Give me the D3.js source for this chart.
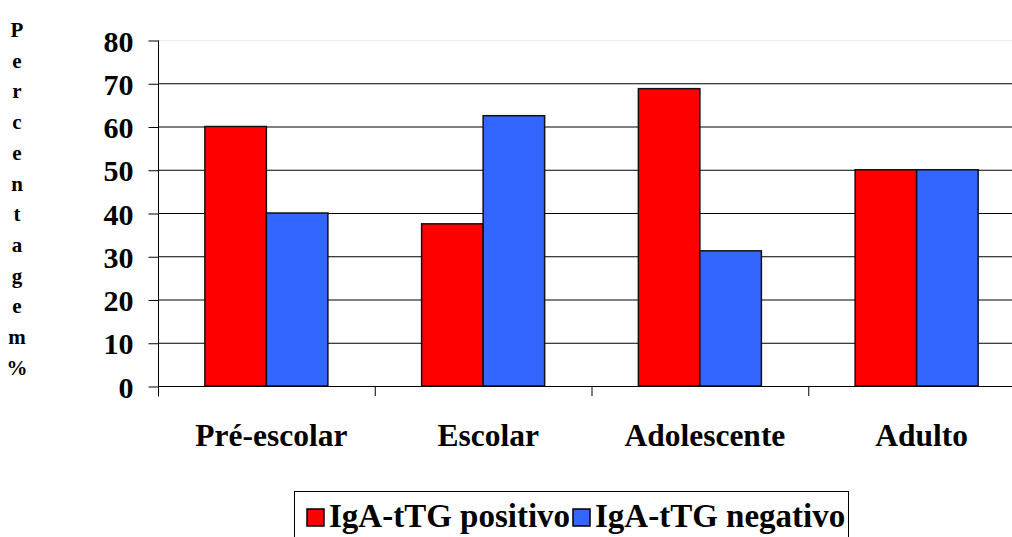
<!DOCTYPE html>
<html>
<head>
<meta charset="utf-8">
<script src="https://cdn.jsdelivr.net/npm/d3@7"></script>
<style>
  html, body { margin: 0; padding: 0; background: #fff; }
  svg { display: block; }
  svg text { font-family: "Liberation Serif", "Times New Roman", Times, serif; font-weight: bold; fill: #000; }
</style>
</head>
<body>
<svg id="chart" width="1012" height="537"></svg>
<script>
// Age groups and the share of IgA-tTG positive / negative results in each
const categories = ["Pré-escolar", "Escolar", "Adolescente", "Adulto"];
const seriesNames = ["IgA-tTG positivo", "IgA-tTG negativo"];
const positivo = [60, 37.5, 68.75, 50];
const negativo = [40, 62.5, 31.25, 50];
const yTicks = [0, 10, 20, 30, 40, 50, 60, 70, 80];
const yTitle = "Percentagem%";
const colors = ["#ff0000", "#3366ff"];

const FONT = '"Liberation Serif", "Times New Roman", Times, serif';
const svg = d3.select("#chart");

const plot = { left: 158, right: 1025, top: 40, bottom: 386 };

const x = d3.scaleBand().domain(categories).range([plot.left, plot.right]).padding(0);
const x1 = d3.scaleBand().domain(seriesNames).range([0, x.bandwidth()])
  .paddingInner(0).paddingOuter(0.762);
const y = d3.scaleLinear().domain([0, 80]).range([plot.bottom, plot.top]);

// horizontal gridlines (top one is a pale border line)
svg.append("g").selectAll("line").data(yTicks.filter(d => d > 0)).join("line")
  .attr("x1", plot.left).attr("x2", plot.right)
  .attr("y1", d => y(d) + 0.5).attr("y2", d => y(d) + 0.5)
  .attr("stroke", d => d === 80 ? "#ececec" : "#000")
  .attr("stroke-width", 1);

// bars
const rows = categories.map((c, i) => ({ cat: c, vals: [positivo[i], negativo[i]] }));
const groups = svg.append("g").selectAll("g").data(rows).join("g")
  .attr("transform", d => `translate(${x(d.cat)},0)`);
groups.selectAll("rect").data(d => d.vals.map((v, k) => ({ v, s: seriesNames[k], k })))
  .join("rect")
  .attr("x", d => x1(d.s))
  .attr("width", x1.bandwidth())
  .attr("y", d => y(d.v))
  .attr("height", d => y(0) - y(d.v))
  .attr("fill", d => colors[d.k])
  .attr("stroke", "#111")
  .attr("stroke-width", 1.5);

// left axis
const yAxis = d3.axisLeft(y).tickValues(yTicks).tickSize(10).tickPadding(15);
const ya = svg.append("g").attr("transform", `translate(${plot.left + 0.5},0.5)`).call(yAxis)
  .attr("font-family", FONT).attr("font-size", 30);
ya.select(".domain").attr("d", `M0,${plot.top}V${plot.bottom + 10}`).attr("stroke", "#000");
ya.selectAll(".tick line").attr("stroke", "#000");
ya.selectAll(".tick text")
  .attr("dy", "0.35em")
  .style("font-family", FONT)
  .style("font-size", "30px")
  .style("font-weight", "bold");

// bottom category ticks at band boundaries
const bounds = categories.slice(1).map(c => x(c));
svg.append("g").selectAll("line").data(bounds).join("line")
  .attr("x1", d => d + 0.5).attr("x2", d => d + 0.5)
  .attr("y1", plot.bottom).attr("y2", plot.bottom + 10)
  .attr("stroke", "#000");
svg.append("line")
  .attr("x1", plot.left).attr("x2", plot.right)
  .attr("y1", plot.bottom + 0.5).attr("y2", plot.bottom + 0.5)
  .attr("stroke", "#000");

// category labels
svg.append("g").selectAll("text").data(categories).join("text")
  .attr("x", d => x(d) + x.bandwidth() / 2 + 5)
  .attr("y", 446)
  .attr("text-anchor", "middle")
  .style("font-family", FONT)
  .style("font-size", "31.5px")
  .text(d => d);

// vertical stacked axis title
svg.append("g").selectAll("text").data(Array.from(yTitle)).join("text")
  .attr("x", 17)
  .attr("y", (d, i) => 37 + i * 30.7)
  .attr("text-anchor", "middle")
  .style("font-family", FONT)
  .style("font-size", "21px")
  .text(d => d);

// legend
const legend = svg.append("g");
legend.append("rect")
  .attr("x", 294.5).attr("y", 491.5).attr("width", 554).attr("height", 80)
  .attr("fill", "none").attr("stroke", "#000");
const legendX = [307, 573];
seriesNames.forEach((s, k) => {
  legend.append("rect")
    .attr("x", legendX[k]).attr("y", 509).attr("width", 17).attr("height", 17)
    .attr("fill", colors[k]).attr("stroke", "#000").attr("stroke-width", 1.5);
  legend.append("text")
    .attr("x", legendX[k] + 22).attr("y", 527)
    .style("font-family", FONT)
    .style("font-size", "33px")
    .text(s);
});
</script>
</body>
</html>
